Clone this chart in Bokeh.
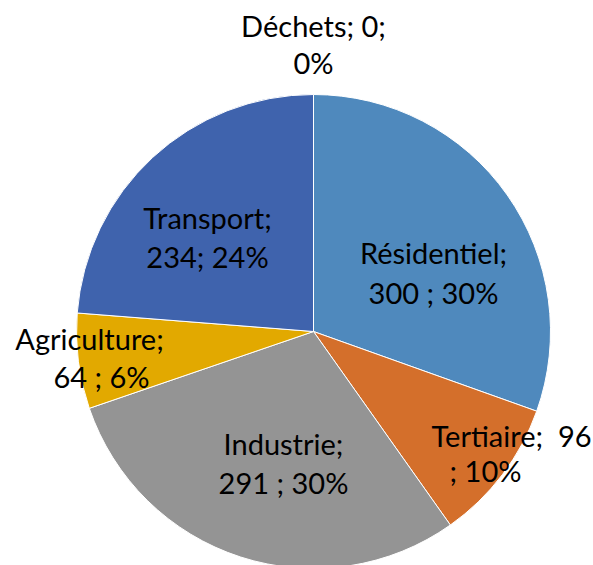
import math
from bokeh.plotting import figure
from bokeh.models import ColumnDataSource
from bokeh.core.properties import value
from bokeh.embed import file_html
from bokeh.resources import INLINE

# Data
categories = ["Résidentiel", "Tertiaire", "Industrie", "Agriculture", "Transport", "Déchets"]
values = [300, 96, 291, 64, 234, 0]
percents = ["30%", "10%", "30%", "6%", "24%", "0%"]
colors = ["#4F89BD", "#D46F2B", "#949494", "#E2A900", "#3F63AD", "#70AD47"]
label_line1 = ["Résidentiel;", "Tertiaire;\u00a0 96", "Industrie;", "Agriculture;", "Transport;", "Déchets; 0;"]
label_line2 = ["300 ; 30%", "; 10%", "291 ; 30%", "64 ; 6%", "234; 24%", "0%"]

W, H = 593, 565
cx, cy, r = 313, H - 331, 237

total = sum(values)
starts, ends = [], []
cum = 0
for v in values:
    starts.append(math.pi / 2 - 2 * math.pi * cum / total)
    cum += v
    ends.append(math.pi / 2 - 2 * math.pi * cum / total)

keep = [i for i, v in enumerate(values) if v > 0]
src = ColumnDataSource(dict(cat=[categories[i] for i in keep], val=[values[i] for i in keep],
                            start=[starts[i] for i in keep], end=[ends[i] for i in keep],
                            color=[colors[i] for i in keep]))

p = figure(width=W, height=H, x_range=(0, W), y_range=(0, H), output_backend="svg",
           toolbar_location=None, min_border=0)
p.axis.visible = False
p.grid.visible = False
p.outline_line_color = None
p.background_fill_color = "white"

p.wedge(x=cx, y=cy, radius=r, start_angle="start", end_angle="end", direction="clock",
        fill_color="color", line_color="white", line_width=1, source=src)

# label layout (pixel positions of each label's two lines)
lx = [433, 511, 283, 89, 207, 313]
ly1 = [252, 435, 443, 338, 217, 25]
lx2 = [433, 485, 283, 101, 207, 313]
ly2 = [292, 470, 482, 376, 256, 62]

lsrc = ColumnDataSource(dict(x1=lx, y1=[H - y for y in ly1], x2=lx2, y2=[H - y for y in ly2],
                             t1=label_line1, t2=label_line2))
common = dict(text_font=value("Lato"), text_font_size="29px", text_color="black",
              text_align="center", text_baseline="middle", source=lsrc)
p.text(x="x1", y="y1", text="t1", **common)
p.text(x="x2", y="y2", text="t2", **common)

open("out.html", "w").write(file_html(p, INLINE))
